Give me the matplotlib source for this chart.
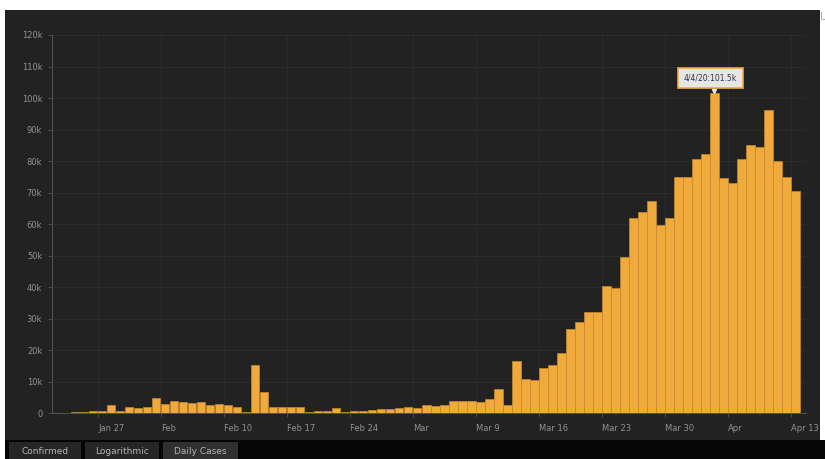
import numpy as np
import matplotlib
matplotlib.use('Agg')
import matplotlib.pyplot as plt
from matplotlib.patches import Rectangle

# daily new cases (thousands), one value per day starting Jan 22
jan = [0.1, 0.1, 0.3, 0.5, 0.7, 0.8, 2.6, 0.6, 2.1, 1.7]
feb = [2.1, 4.8, 3.1, 4.0, 3.7, 3.2, 3.6, 2.7, 3.0, 2.6, 2.0, 0.4, 15.2, 6.8,
       2.1, 2.1, 2.0, 1.9, 0.5, 0.6, 0.6, 1.8, 0.4, 0.6, 0.8, 1.0, 1.3, 1.3, 1.7]
mar = [2.1, 1.8, 2.5, 2.3, 2.7, 3.8, 3.8, 3.8, 3.6, 4.6, 7.6, 2.5, 16.6, 10.9,
       10.7, 14.3, 15.3, 19.0, 26.8, 29.1, 32.0, 32.2, 40.4, 39.7, 49.6, 61.9,
       63.8, 67.2, 59.6, 62.1, 75.1]
apr = [75.1, 80.7, 82.3, 101.5, 74.6, 73.0, 80.7, 85.0, 84.4, 96.3, 79.9, 75.1, 70.4]
daily = jan + feb + mar + apr

# weekly ticks (day index from Jan 22)
tick_days = [5, 12, 19, 26, 33, 40, 47, 54, 61, 68, 75, 82]
tick_labels = ['Jan 27', 'Feb', 'Feb 10', 'Feb 17', 'Feb 24', 'Mar', 'Mar 9',
               'Mar 16', 'Mar 23', 'Mar 30', 'Apr', 'Apr 13']
y_ticks = [0, 10, 20, 30, 40, 50, 60, 70, 80, 90, 100, 110, 120]
tabs = ['Confirmed', 'Logarithmic', 'Daily Cases']
peak_label = '4/4/20:101.5k'

W, H = 825, 459
fig = plt.figure(figsize=(W/100, H/100), dpi=100)
fig.patch.set_facecolor('white')

# dark panel + black tab strip
fig.patches.append(Rectangle((5/W, (H-440)/H), 815/W, 430/H, transform=fig.transFigure,
                             facecolor='#222222', edgecolor='none', zorder=-2))
fig.patches.append(Rectangle((5/W, 0), 820/W, (H-440)/H, transform=fig.transFigure,
                             facecolor='#050505', edgecolor='none', zorder=-2))
tab_x = [9, 85, 163]
tab_w = [72, 74, 75]
tab_c = ['#262626', '#262626', '#303030']
for t, x0, w, c in zip(tabs, tab_x, tab_w, tab_c):
    fig.patches.append(Rectangle((x0/W, 0), w/W, 17/H, transform=fig.transFigure,
                                 facecolor=c, edgecolor='none', zorder=-1))
    fig.text((x0 + w/2)/W, 8/H, t, ha='center', va='center', color='#b5b5b5', fontsize=6.5)
fig.text(819/W, (H-17)/H, 'U', ha='left', va='center', color='#999999', fontsize=7)

x0, x1 = -0.6, 83.2
left = 52
right = 53 + (x1 + 0.5) * 9
ax = fig.add_axes([left/W, (H-413.3)/H, (right-left)/W, (413.3-35)/H])
ax.set_zorder(2)
ax.set_facecolor('none')

x = np.arange(len(daily))
ax.bar(x, daily, width=0.9, color='#f0aa3c', edgecolor='#c88a2c', linewidth=0.5, zorder=3)

ax.set_xlim(x0, x1)
ax.set_ylim(0, 120)
ax.set_yticks(y_ticks)
ax.set_yticklabels(['0'] + [f'{v}k' for v in y_ticks[1:]])
ax.set_xticks([d - 0.5 for d in tick_days])
ax.set_xticklabels(tick_labels, ha='left')
ax.tick_params(axis='both', colors='#555555', labelcolor='#929292', labelsize=6,
               length=3, width=0.6)
ax.tick_params(axis='x', pad=5)
ax.tick_params(axis='y', pad=4)
ax.grid(True, color='#2e2e2e', linewidth=0.6, zorder=0)
for s in ['top', 'right']:
    ax.spines[s].set_visible(False)
for s in ['left', 'bottom']:
    ax.spines[s].set_color('#555555')
    ax.spines[s].set_linewidth(0.7)

# peak annotation
ip = int(np.argmax(daily))
ax.plot([ip], [daily[ip] + 0.8], marker='v', markersize=3, color='#e8e8e8', zorder=5)
ax.annotate(peak_label, xy=(ip, daily[ip]), xytext=(-3, 11), textcoords='offset points',
            ha='center', va='center', fontsize=5.5, color='#333333', zorder=6,
            bbox=dict(boxstyle='square,pad=0.75', fc='#e6e6e6', ec='#f0aa3c', lw=1.2))

plt.savefig('out.png', dpi=100, facecolor=fig.get_facecolor())
